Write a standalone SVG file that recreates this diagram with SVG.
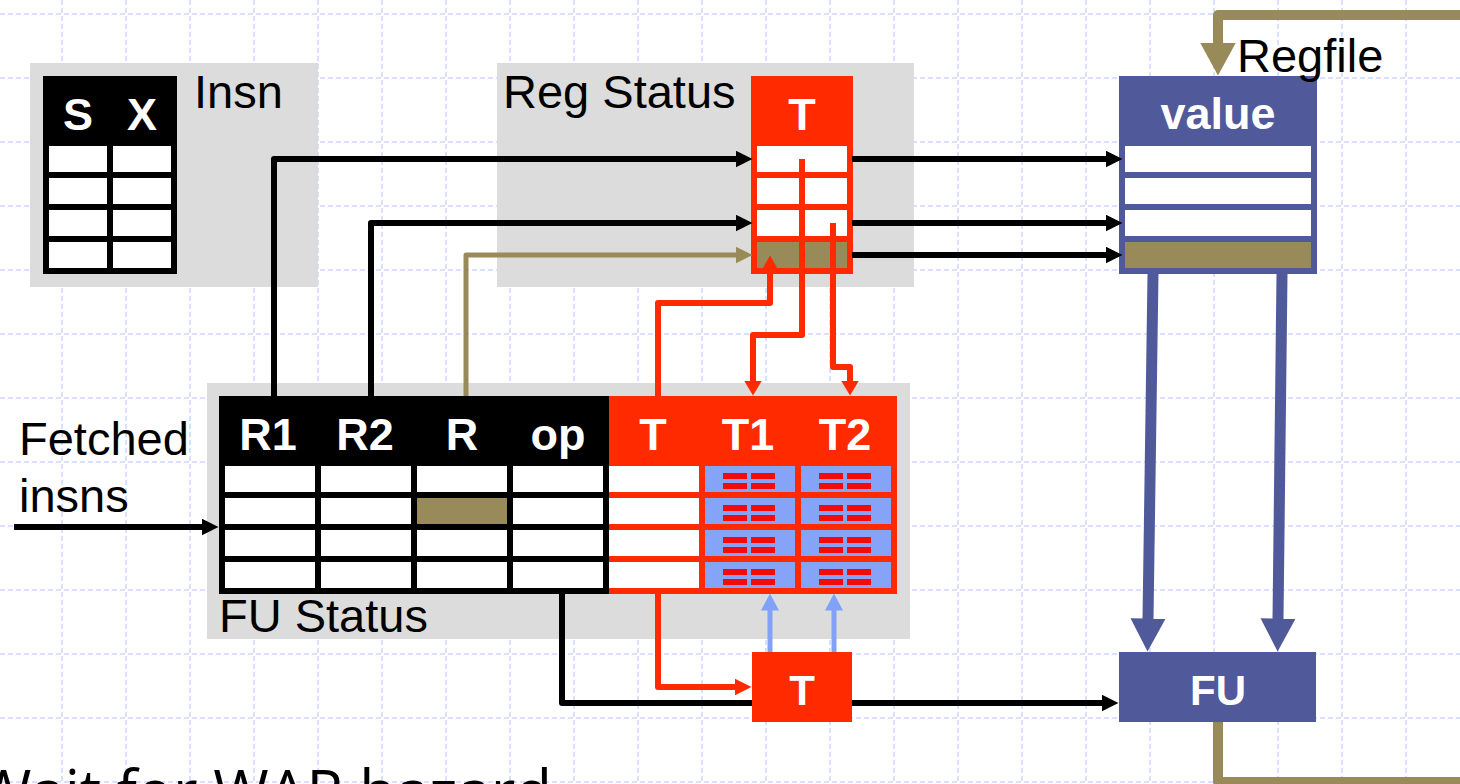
<svg xmlns="http://www.w3.org/2000/svg" xmlns:xlink="http://www.w3.org/1999/xlink" width="1460" height="784" viewBox="0 0 1460 784">
<style>
.grid{stroke:#ccd7fa;stroke-width:1.5;stroke-dasharray:5 3;fill:none}
.gray{fill:#dcdcdc}
.lbl{font-family:"Liberation Sans",Arial,sans-serif;font-size:47px;fill:#000}
.hdr{font-family:"Liberation Sans",Arial,sans-serif;font-size:45px;font-weight:bold;fill:#fff;text-anchor:middle}
.cell{fill:#fff}
.olv{fill:#998a5a}
.bc{fill:#85a3f7}
.blk{stroke:#000;stroke-width:6;fill:none;stroke-linejoin:round}
.olvl{stroke:#998a5a;stroke-width:5;fill:none;stroke-linejoin:round}
.redl{stroke:#ff2a00;stroke-width:6;fill:none;stroke-linejoin:round}
.lbl2{stroke:#82a2f7;stroke-width:5;fill:none}
.bluel{stroke:#505a9b;stroke-width:11;fill:none}
.loop{stroke:#998a5a;stroke-width:10;fill:none;stroke-linejoin:round}
</style>
<defs>
<marker id="ahBlk" markerUnits="userSpaceOnUse" markerWidth="18" markerHeight="17" refX="0.5" refY="8.5" orient="auto"><path d="M0,0L17,8.5L0,17z" fill="#000"/></marker>
<marker id="ahOlv" markerUnits="userSpaceOnUse" markerWidth="18" markerHeight="17" refX="0.5" refY="8.5" orient="auto"><path d="M0,0L17,8.5L0,17z" fill="#998a5a"/></marker>
<marker id="ahRed" markerUnits="userSpaceOnUse" markerWidth="18" markerHeight="18" refX="0.5" refY="9" orient="auto"><path d="M0,0L15,9L0,18z" fill="#ff2a00"/></marker>
<marker id="ahRedS" markerUnits="userSpaceOnUse" markerWidth="14" markerHeight="15" refX="0.5" refY="7.5" orient="auto"><path d="M0,0L13,7.5L0,15z" fill="#ff2a00"/></marker>
<marker id="ahRedB" markerUnits="userSpaceOnUse" markerWidth="18" markerHeight="17" refX="0.5" refY="8.5" orient="auto"><path d="M0,0L17,8.5L0,17z" fill="#ff2a00"/></marker>
<marker id="ahLb" markerUnits="userSpaceOnUse" markerWidth="18" markerHeight="18" refX="0.5" refY="9" orient="auto"><path d="M0,0L17,9L0,18z" fill="#82a2f7"/></marker>
<marker id="ahBlue" markerUnits="userSpaceOnUse" markerWidth="34" markerHeight="35" refX="0.5" refY="17.5" orient="auto"><path d="M0,0L33,17.5L0,35z" fill="#505a9b"/></marker>
<marker id="ahLoop" markerUnits="userSpaceOnUse" markerWidth="34" markerHeight="36" refX="0.5" refY="18" orient="auto"><path d="M0,0L33,18L0,36z" fill="#998a5a"/></marker>
<g id="bits" fill="#f50a0a"><rect x="18" y="7" width="24" height="6"/><rect x="46" y="7" width="24" height="6"/><rect x="18" y="17" width="24" height="6"/><rect x="46" y="17" width="24" height="6"/></g>
</defs>
<rect width="1460" height="784" fill="#fff"/>
<g id="grid">
<path class="grid" d="M62,0V784M126,0V784M190,0V784M254,0V784M318,0V784M382,0V784M446,0V784M510,0V784M574,0V784M638,0V784M702,0V784M766,0V784M830,0V784M894,0V784M958,0V784M1022,0V784M1086,0V784M1150,0V784M1214,0V784M1278,0V784M1342,0V784M1406,0V784M0,14H1460M0,78H1460M0,142H1460M0,206H1460M0,270H1460M0,334H1460M0,398H1460M0,462H1460M0,526H1460M0,590H1460M0,654H1460M0,718H1460M0,782H1460"/>
</g>
<g id="insn">
<rect class="gray" x="30" y="63" width="288" height="224"/>
<text class="lbl" x="194" y="108">Insn</text>
<rect x="43" y="76" width="134" height="198" fill="#000"/>
<text class="hdr" x="78" y="130">S</text>
<text class="hdr" x="142" y="130">X</text>
<rect class="cell" x="49" y="146" width="58" height="26"/><rect class="cell" x="113" y="146" width="58" height="26"/>
<rect class="cell" x="49" y="178" width="58" height="26"/><rect class="cell" x="113" y="178" width="58" height="26"/>
<rect class="cell" x="49" y="210" width="58" height="26"/><rect class="cell" x="113" y="210" width="58" height="26"/>
<rect class="cell" x="49" y="242" width="58" height="26"/><rect class="cell" x="113" y="242" width="58" height="26"/>
</g>
<g id="regstatus">
<rect class="gray" x="497" y="63" width="417" height="224"/>
<text class="lbl" x="503" y="108">Reg Status</text>
<rect x="751" y="76" width="102" height="198" fill="#ff2a00"/>
<text class="hdr" x="802" y="130">T</text>
<rect class="cell" x="757" y="146" width="90" height="26"/>
<rect class="cell" x="757" y="178" width="90" height="26"/>
<rect class="cell" x="757" y="210" width="90" height="26"/>
<rect class="olv" x="757" y="242" width="90" height="26"/>
</g>
<g id="regfile">
<rect x="1119" y="76" width="198" height="198" fill="#505a9b"/>
<text class="hdr" x="1218" y="129">value</text>
<rect class="cell" x="1125" y="146" width="186" height="26"/>
<rect class="cell" x="1125" y="178" width="186" height="26"/>
<rect class="cell" x="1125" y="210" width="186" height="26"/>
<rect class="olv" x="1125" y="242" width="186" height="26"/>
<text class="lbl" x="1237" y="72">Regfile</text>
</g>
<g id="fustatus">
<rect class="gray" x="207" y="383" width="703" height="256"/>
<text class="lbl" x="219" y="632">FU Status</text>
<rect x="219" y="396" width="390" height="198" fill="#000"/>
<rect x="609" y="396" width="288" height="198" fill="#ff2a00"/>
<text class="hdr" x="268" y="450">R1</text>
<text class="hdr" x="365" y="450">R2</text>
<text class="hdr" x="462" y="450">R</text>
<text class="hdr" x="558" y="450">op</text>
<text class="hdr" x="653" y="450">T</text>
<text class="hdr" x="748" y="450">T1</text>
<text class="hdr" x="845" y="450">T2</text>
<g class="cell">
<rect x="225" y="466" width="90" height="26"/><rect x="321" y="466" width="90" height="26"/><rect x="417" y="466" width="90" height="26"/><rect x="513" y="466" width="90" height="26"/><rect x="609" y="466" width="90" height="26"/>
<rect x="225" y="498" width="90" height="26"/><rect x="321" y="498" width="90" height="26"/><rect x="513" y="498" width="90" height="26"/><rect x="609" y="498" width="90" height="26"/>
<rect x="225" y="530" width="90" height="26"/><rect x="321" y="530" width="90" height="26"/><rect x="417" y="530" width="90" height="26"/><rect x="513" y="530" width="90" height="26"/><rect x="609" y="530" width="90" height="26"/>
<rect x="225" y="562" width="90" height="26"/><rect x="321" y="562" width="90" height="26"/><rect x="417" y="562" width="90" height="26"/><rect x="513" y="562" width="90" height="26"/><rect x="609" y="562" width="90" height="26"/>
</g>
<rect class="olv" x="417" y="498" width="90" height="26"/>
<g class="bc">
<rect x="705" y="466" width="90" height="26"/><rect x="801" y="466" width="90" height="26"/>
<rect x="705" y="498" width="90" height="26"/><rect x="801" y="498" width="90" height="26"/>
<rect x="705" y="530" width="90" height="26"/><rect x="801" y="530" width="90" height="26"/>
<rect x="705" y="562" width="90" height="26"/><rect x="801" y="562" width="90" height="26"/>
</g>
<use xlink:href="#bits" x="705" y="466"/><use xlink:href="#bits" x="801" y="466"/>
<use xlink:href="#bits" x="705" y="498"/><use xlink:href="#bits" x="801" y="498"/>
<use xlink:href="#bits" x="705" y="530"/><use xlink:href="#bits" x="801" y="530"/>
<use xlink:href="#bits" x="705" y="562"/><use xlink:href="#bits" x="801" y="562"/>
</g>
<g id="fetched">
<text class="lbl" x="19" y="455">Fetched</text>
<text class="lbl" x="19" y="512">insns</text>
</g>
<g id="tbox">
<rect x="752" y="652" width="100" height="70" fill="#ff2a00"/>
<text class="hdr" x="802" y="705" style="font-size:42px">T</text>
</g>
<g id="fu">
<rect x="1119" y="652" width="197" height="70" fill="#505a9b"/>
<text class="hdr" x="1218" y="705" style="font-size:42px">FU</text>
</g>
<g id="connectors">
<path class="blk" d="M274,396V159H736" marker-end="url(#ahBlk)"/>
<path class="blk" d="M371,396V223H736" marker-end="url(#ahBlk)"/>
<path class="olvl" d="M466,396V255H736" marker-end="url(#ahOlv)"/>
<path class="blk" d="M852,159H1106" marker-end="url(#ahBlk)"/>
<path class="blk" d="M852,223H1106" marker-end="url(#ahBlk)"/>
<path class="blk" d="M852,255H1106" marker-end="url(#ahBlk)"/>
<path class="blk" d="M14,527H202" marker-end="url(#ahBlk)"/>
<path class="blk" d="M562,594V703H752"/>
<path class="blk" d="M852,703H1102" marker-end="url(#ahBlk)"/>
<path class="redl" d="M658,396V303H770V268" marker-end="url(#ahRedS)"/>
<path class="redl" d="M802,159V335H753V381" marker-end="url(#ahRed)"/>
<path class="redl" d="M833,223V367H850V381" marker-end="url(#ahRed)"/>
<path class="redl" d="M658,594V687H735" marker-end="url(#ahRedB)"/>
<path class="lbl2" d="M770,652V610" marker-end="url(#ahLb)"/>
<path class="lbl2" d="M834,652V610" marker-end="url(#ahLb)"/>
<path class="bluel" d="M1153,274L1148,619" marker-end="url(#ahBlue)"/>
<path class="bluel" d="M1282,274L1278,619" marker-end="url(#ahBlue)"/>
<path class="loop" d="M1465,15H1218V43" marker-end="url(#ahLoop)"/>
<path class="loop" d="M1218,722V782H1465"/>
</g>
<text x="552" y="813" text-anchor="end" style="font-family:'Open Sans','Liberation Sans',sans-serif;font-size:60px;fill:#000">Wait for WAR hazard</text>
</svg>
